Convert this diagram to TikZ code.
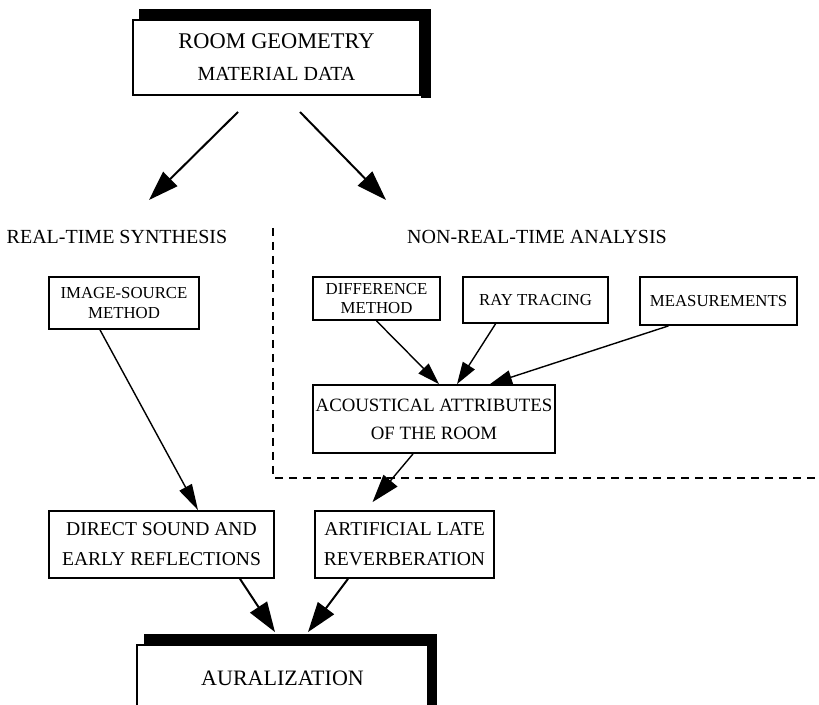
\documentclass[tikz,border=0pt]{standalone}
\usepackage{fontspec}
\setmainfont{Liberation Serif}
\usetikzlibrary{arrows.meta}
\tikzstyle{box} = [draw, line width=0.9pt, fill=white, align=center, inner sep=0pt, font=\fontsize{10}{14}\selectfont]
\tikzstyle{small} = [font=\fontsize{8.4}{9.8}\selectfont]
\tikzstyle{title} = [align=center, inner sep=0pt, font=\fontsize{10}{14}\selectfont]
\tikzstyle{bigarrow} = [line width=1pt, -{Triangle[length=15pt,width=10pt]}]
\tikzstyle{arrow} = [line width=0.7pt, -{Triangle[length=11pt,width=7pt]}]
\tikzstyle{border} = [dash pattern=on 4pt off 3pt, line width=0.7pt]

\begin{document}
\begin{tikzpicture}[x=0.5pt, y=-0.5pt]
	\useasboundingbox (0,0) rectangle (819,705);
	\clip (0,0) rectangle (819,705);
	% input box with heavy shadow
	\node[box, minimum width=143.5pt, minimum height=37.5pt, font=\fontsize{10}{16}\selectfont] (geo) at (276.5,57.5) {{\fontsize{11.2}{16}\selectfont ROOM GEOMETRY}\\MATERIAL DATA};
	\fill ([xshift=3.5pt,yshift=5pt]geo.north west) rectangle ([xshift=5pt]geo.north east);
	\fill ([yshift=5pt]geo.north east) rectangle ([xshift=5pt,yshift=-1pt]geo.south east);
	\coordinate (s1) at (238,112);
	\coordinate (e1) at (149,200);
	\coordinate (s2) at (300,112);
	\coordinate (e2) at (386,200);
	\draw[bigarrow] (s1) -- (e1);
	\draw[bigarrow] (s2) -- (e2);
	% the two branches
	\node[title] (rts) at (117,237) {REAL-TIME SYNTHESIS};
	\node[title] (nrta) at (537,237) {NON-REAL-TIME ANALYSIS};
	\coordinate (dtop) at (273,228);
	\coordinate (dcorner) at (273,478);
	\coordinate (dend) at (819,478);
	\draw[border] (dtop) -- (dcorner) -- (dend);
	\node[box, small, minimum width=75pt, minimum height=26pt] (img) at (124,303) {IMAGE-SOURCE\\METHOD};
	\node[box, small, minimum width=63.5pt, minimum height=21.5pt] (diff) at (376.5,298.5) {DIFFERENCE\\METHOD};
	\node[box, small, minimum width=72.5pt, minimum height=23pt] (ray) at (535.5,300) {RAY TRACING};
	\node[box, small, minimum width=78.5pt, minimum height=24pt] (meas) at (718.5,301) {MEASUREMENTS};
	\node[box, minimum width=121pt, minimum height=34pt, font=\fontsize{9.4}{14}\selectfont] (acou) at (434,419) {ACOUSTICAL ATTRIBUTES\\OF THE ROOM};
	\node[box, minimum width=112.5pt, minimum height=33.5pt, font=\fontsize{9.8}{15}\selectfont] (direct) at (161.5,544.5) {DIRECT SOUND AND\\EARLY REFLECTIONS};
	\node[box, minimum width=89.5pt, minimum height=33.5pt, font=\fontsize{9.8}{15}\selectfont] (art) at (404.5,544.5) {ARTIFICIAL LATE\\REVERBERATION};
	% output box, cut by the page
	\node[box, minimum width=145.5pt, minimum height=33pt, font=\fontsize{11}{14}\selectfont] (aur) at (282.5,678) {AURALIZATION};
	\fill ([xshift=4pt,yshift=5pt]aur.north west) rectangle ([xshift=4pt]aur.north east);
	\fill ([yshift=5pt]aur.north east) rectangle ([xshift=4pt]aur.south east);
	\path
	([xshift=-12pt]img.south) edge[arrow, -{Triangle[length=13pt,width=7pt]}] ([xshift=18.25pt]direct.north)
	(diff.south) edge[arrow] ([xshift=2.5pt]acou.north)
	([xshift=-20pt]ray.south) edge[arrow] ([xshift=11.5pt]acou.north)
	([xshift=-25pt]meas.south) edge[arrow] ([xshift=28pt]acou.north)
	([xshift=-10.5pt]acou.south) edge[arrow, -{Triangle[length=14pt,width=9pt]}] ([xshift=-16pt,yshift=4pt]art.north)
	([xshift=39.25pt]direct.south) edge[bigarrow] ([xshift=-3.75pt,yshift=6pt]aur.north)
	([xshift=-28.25pt]art.south) edge[bigarrow] ([xshift=12.75pt,yshift=6pt]aur.north);
\end{tikzpicture}
\end{document}
